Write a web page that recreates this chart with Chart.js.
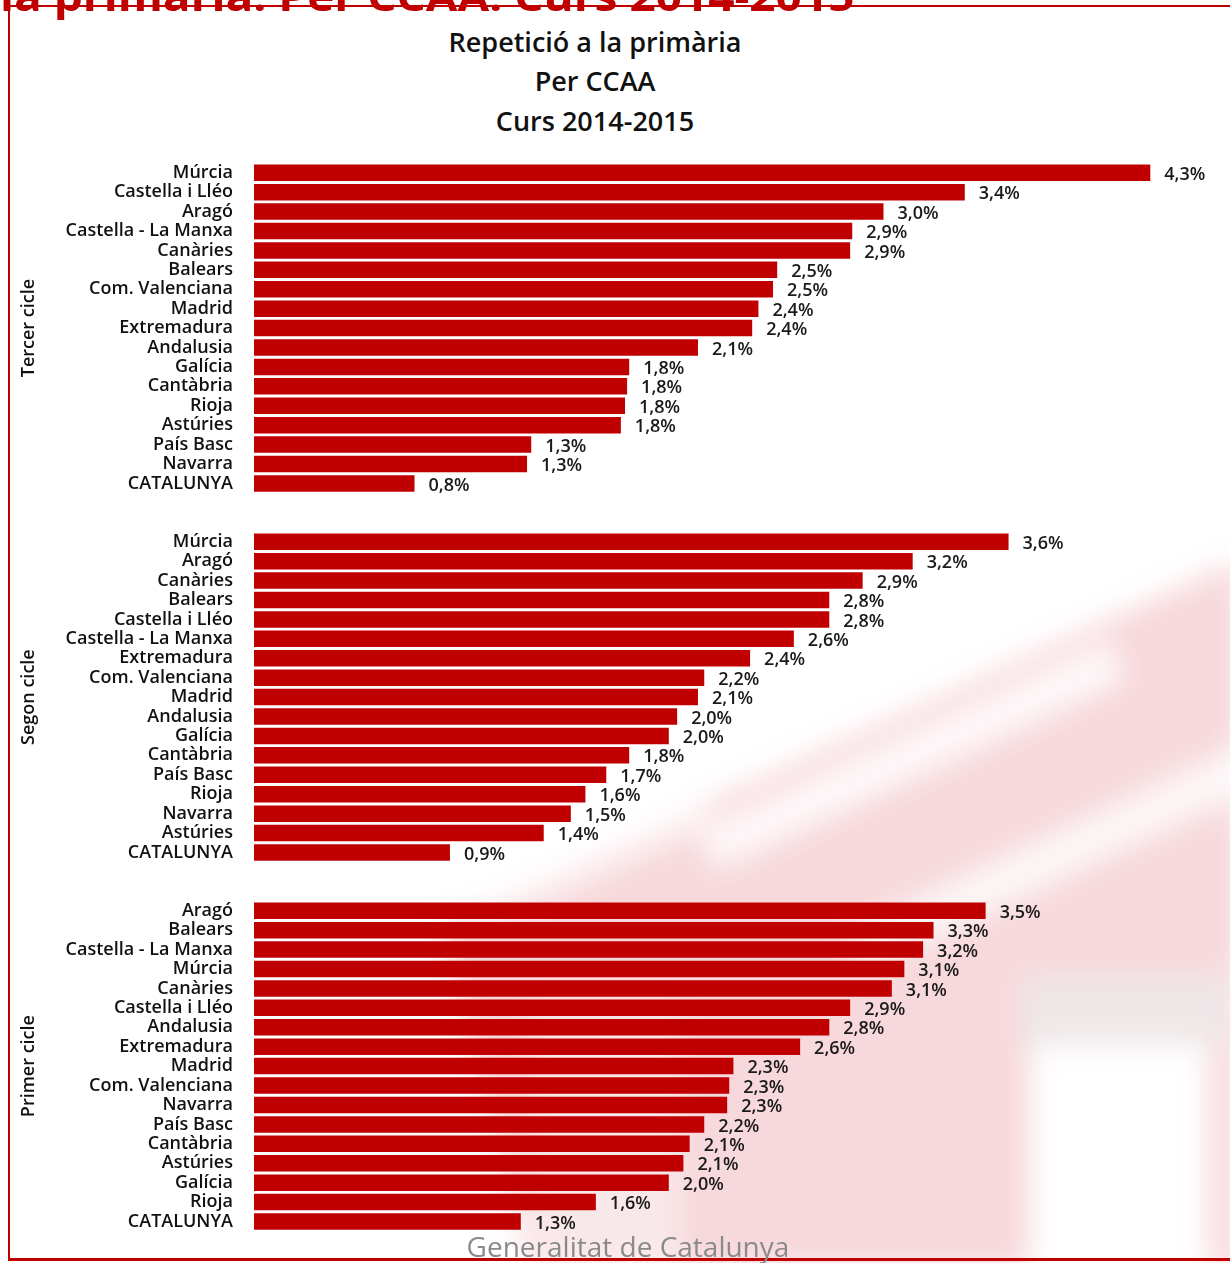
<!DOCTYPE html>
<html>
<head>
<meta charset="utf-8">
<script src="https://cdn.jsdelivr.net/npm/chart.js@4.4.1/dist/chart.umd.min.js"></script>
<style>
  html, body { margin: 0; padding: 0; background: #fff; }
  body { width: 1230px; height: 1263px; position: relative; overflow: hidden; font-family: 'Open Sans', sans-serif; }
  #wm { position: absolute; left: 0; top: 0; opacity: 0.85; }
  #frame { position: absolute; left: 8px; top: 5px; width: 1240px; height: 1256px; border: 2px solid #c00000; border-bottom-width: 3px; box-sizing: border-box; }
  #heading { position: absolute; left: 0; top: -24px; font-size: 40px; line-height: 40px; font-weight: 700; color: #c00000; white-space: nowrap; transform-origin: 0 0; }
  .title { position: absolute; left: 0; width: 1190px; text-align: center; font-size: 27px; line-height: 30px; font-weight: 600; color: #111; }
  #footer { position: absolute; left: 0; width: 1256px; top: 1232px; text-align: center; font-size: 28px; line-height: 28px; color: #8a8a8a; }
  #wrap { position: absolute; left: 0; top: 0; width: 1230px; height: 1263px; }
</style>
</head>
<body>
<!-- faded logo watermark behind the chart -->
<svg id="wm" width="1230" height="1263">
  <defs><filter id="soft"><feGaussianBlur stdDeviation="14"/></filter></defs>
  <g filter="url(#soft)">
    <polygon points="440,925 1240,560 1240,1270 530,1270" fill="#f6d2d6"/>
    <polygon points="700,830 1110,640 1125,680 715,870" fill="#ffffff" opacity="0.85"/>
    <polygon points="850,930 1240,745 1240,795 860,972" fill="#ffffff" opacity="0.8"/>
    <polygon points="470,900 700,795 712,825 480,930" fill="#ffffff" opacity="0.6"/>
    <rect x="1030" y="1045" width="178" height="230" fill="#ffffff"/>
    <rect x="530" y="1000" width="150" height="270" fill="#ffffff" opacity="0.4"/>
    <rect x="1020" y="975" width="210" height="70" fill="#ebe4e5" opacity="0.9"/>
  </g>
</svg>

<div id="heading">la primària. Per CCAA. Curs 2014-2015</div>
<div id="frame"></div>
<div class="title" style="top:27px;">Repetició a la primària</div>
<div class="title" style="top:66px;">Per CCAA</div>
<div class="title" style="top:106px;">Curs 2014-2015</div>
<div id="wrap"><canvas id="chart"></canvas></div>
<div id="footer">Generalitat de Catalunya</div>

<script>
// --- Data (percent of pupils repeating) ---
const cycleNames = ['Tercer cicle', 'Segon cicle', 'Primer cicle'];

const tercerLabels = ['Múrcia', 'Castella i Lléo', 'Aragó', 'Castella - La Manxa', 'Canàries', 'Balears',
  'Com. Valenciana', 'Madrid', 'Extremadura', 'Andalusia', 'Galícia', 'Cantàbria', 'Rioja', 'Astúries',
  'País Basc', 'Navarra', 'CATALUNYA'];
const tercerValues = [4.30, 3.41, 3.02, 2.87, 2.86, 2.51, 2.49, 2.42, 2.39, 2.13, 1.80, 1.79, 1.78, 1.76, 1.33, 1.31, 0.77];

const segonLabels = ['Múrcia', 'Aragó', 'Canàries', 'Balears', 'Castella i Lléo', 'Castella - La Manxa',
  'Extremadura', 'Com. Valenciana', 'Madrid', 'Andalusia', 'Galícia', 'Cantàbria', 'País Basc', 'Rioja',
  'Navarra', 'Astúries', 'CATALUNYA'];
const segonValues = [3.62, 3.16, 2.92, 2.76, 2.76, 2.59, 2.38, 2.16, 2.13, 2.03, 1.99, 1.80, 1.69, 1.59, 1.52, 1.39, 0.94];

const primerLabels = ['Aragó', 'Balears', 'Castella - La Manxa', 'Múrcia', 'Canàries', 'Castella i Lléo',
  'Andalusia', 'Extremadura', 'Madrid', 'Com. Valenciana', 'Navarra', 'País Basc', 'Cantàbria', 'Astúries',
  'Galícia', 'Rioja', 'CATALUNYA'];
const primerValues = [3.51, 3.26, 3.21, 3.12, 3.06, 2.86, 2.76, 2.62, 2.30, 2.28, 2.27, 2.16, 2.09, 2.06, 1.99, 1.64, 1.28];

// two empty rows between the cycle blocks
const gap = ['', ''];
const allLabels = [...tercerLabels, ...gap, ...segonLabels, ...gap, ...primerLabels];
const allValues = [...tercerValues, null, null, ...segonValues, null, null, ...primerValues];
const groups = [
  { name: cycleNames[0], from: 0, to: tercerLabels.length - 1 },
  { name: cycleNames[1], from: tercerLabels.length + 2, to: tercerLabels.length + 2 + segonLabels.length - 1 },
  { name: cycleNames[2], from: allLabels.length - primerLabels.length, to: allLabels.length - 1 },
];

const labelFont = "600 18px 'Open Sans', sans-serif";

// fit the cut-off heading to its width
const heading = document.getElementById('heading');
heading.style.transform = `scaleX(${855 / heading.scrollWidth})`;

// --- Plugins ---
const valueLabels = {
  id: 'valueLabels',
  afterDatasetsDraw(chart) {
    const ctx = chart.ctx;
    const meta = chart.getDatasetMeta(0);
    ctx.save();
    ctx.font = labelFont;
    ctx.fillStyle = '#1a1a1a';
    ctx.textAlign = 'left';
    ctx.textBaseline = 'middle';
    meta.data.forEach((bar, i) => {
      const v = allValues[i];
      if (v == null) return;
      ctx.fillText(v.toFixed(1).replace('.', ',') + '%', bar.x + 14, bar.y + 2);
    });
    ctx.restore();
  }
};

const groupLabels = {
  id: 'groupLabels',
  afterDraw(chart) {
    const ctx = chart.ctx;
    const y = chart.scales.y;
    ctx.save();
    ctx.font = labelFont;
    ctx.fillStyle = '#111';
    ctx.textAlign = 'center';
    ctx.textBaseline = 'middle';
    groups.forEach(g => {
      const mid = (y.getPixelForValue(g.from) + y.getPixelForValue(g.to)) / 2;
      ctx.save();
      ctx.translate(29, mid);
      ctx.rotate(-Math.PI / 2);
      ctx.fillText(g.name, 0, 0);
      ctx.restore();
    });
    ctx.restore();
  }
};

// --- Chart ---
new Chart(document.getElementById('chart'), {
  type: 'bar',
  data: {
    labels: allLabels,
    datasets: [{
      data: allValues,
      backgroundColor: '#c00000',
      borderWidth: 0,
      categoryPercentage: 1,
      barPercentage: 0.85
    }]
  },
  options: {
    indexAxis: 'y',
    responsive: true,
    maintainAspectRatio: false,
    animation: false,
    layout: { padding: { top: 163, bottom: 25, right: 38, left: 0 } },
    plugins: { legend: { display: false }, tooltip: { enabled: false } },
    scales: {
      x: { display: false, min: 0, max: 4.5 },
      y: {
        grid: { display: false, drawTicks: false },
        border: { display: false },
        ticks: {
          autoSkip: false,
          padding: 21,
          color: '#111',
          font: { family: "'Open Sans', sans-serif", size: 18, weight: '600' }
        },
        afterFit(scale) { scale.width = 254; }
      }
    }
  },
  plugins: [valueLabels, groupLabels]
});
</script>
</body>
</html>
